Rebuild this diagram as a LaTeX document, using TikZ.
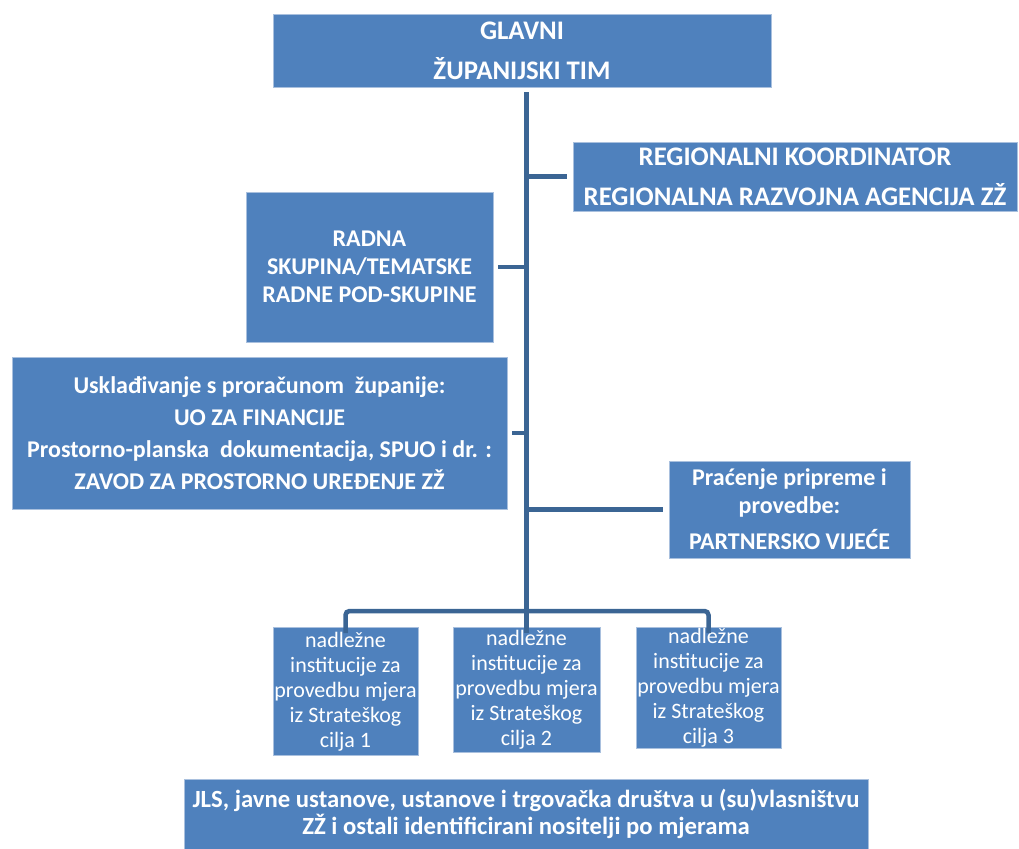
\documentclass[tikz,border=0pt]{standalone}
\usepackage{fontspec}
\setmainfont{Carlito}
\usetikzlibrary{calc}
\definecolor{cbox}{HTML}{4F81BD}
\definecolor{cedge}{HTML}{A9C0DE}
\definecolor{cline}{HTML}{3B6594}
\tikzset{
  box/.style={fill=cbox, draw=cedge, line width=0.7pt, text=white, align=center, inner sep=0pt},
  big/.style={font=\fontsize{26.8}{40}\selectfont\bfseries},
  mid/.style={font=\fontsize{24}{#1}\selectfont\bfseries},
  mid/.default=28,
  small/.style={font=\fontsize{22}{25}\selectfont},
  link/.style={draw=cline, line width=4.5pt},
}
\begin{document}
\begin{tikzpicture}[x=1pt, y=-1pt]
  \useasboundingbox (0,0) rectangle (1019,848);
  % upper boxes
  \node[box, big, minimum width=498pt, minimum height=73pt] (glavni) at (522,50.5) {GLAVNI\\ŽUPANIJSKI TIM};
  \node[box, big, minimum width=444pt, minimum height=69pt] (koord) at (795,176.5) {REGIONALNI KOORDINATOR\\REGIONALNA RAZVOJNA AGENCIJA ZŽ};
  \node[box, mid, minimum width=247pt, minimum height=150pt] (radna) at (369.5,267) {RADNA\\SKUPINA/TEMATSKE\\RADNE POD-SKUPINE};
  \node[box, mid=32, minimum width=495pt, minimum height=152pt] (uskl) at (259.5,433) {Usklađivanje s proračunom \ županije:\\UO ZA FINANCIJE\\Prostorno-planska \ dokumentacija, SPUO i dr. :\\ZAVOD ZA PROSTORNO UREĐENJE ZŽ};
  \node[box, mid, minimum width=241pt, minimum height=97pt] (partner) at (789.5,509.5) {Praćenje pripreme i\\provedbe:\\[8pt]PARTNERSKO VIJEĆE};
  % strategic goals
  \foreach \k/\x/\w/\h in {1/345.5/145/128, 2/526.5/147/125, 3/708.5/145/121}
    \node[box, small, anchor=north, minimum width=\w pt, minimum height=\h pt] (cilj\k) at (\x,627) {nadležne\\institucije za\\provedbu mjera\\iz Strateškog\\cilja \k};
  \node[box, font=\fontsize{24.7}{27}\selectfont\bfseries, minimum width=684pt, minimum height=70pt] (nositelji) at (526,814) {JLS, javne ustanove, ustanove i trgovačka društva u (su)vlasništvu\\ZŽ i ostali identificirani nositelji po mjerama};
  % connectors
  \coordinate (bar) at ($(cilj2.north)+(0,-16)$);
  \draw[link] ([yshift=-5pt]glavni.south -| cilj2.north) -- (bar);
  \draw[link, rounded corners=4pt] ([yshift=-6pt]cilj1.north) |- (bar) -| ([yshift=-6pt]cilj3.north);
  \draw[link] (bar) -- ([yshift=-6pt]cilj2.north);
  \draw[link] (koord.west -| bar) -- ([xshift=-6pt]koord.west);
  \draw[link] ([xshift=5pt]radna.east) -- (radna.east -| bar);
  \draw[link] ([xshift=5pt]uskl.east) -- (uskl.east -| bar);
  \draw[link] (partner.west -| bar) -- ([xshift=-6pt]partner.west);
\end{tikzpicture}
\end{document}
